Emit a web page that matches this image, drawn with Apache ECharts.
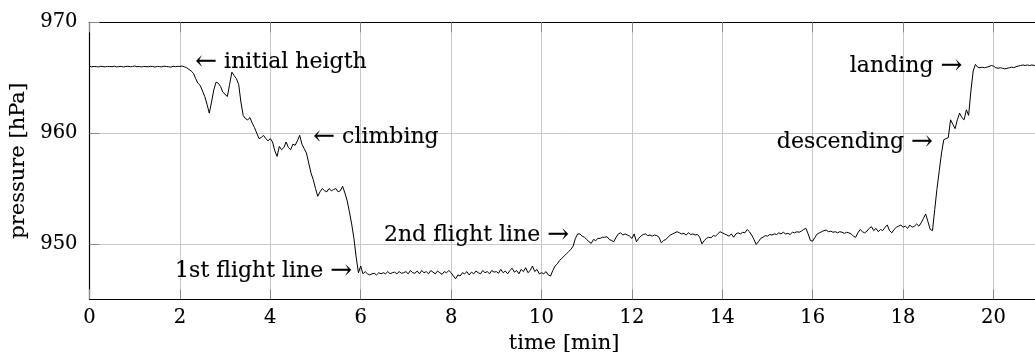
<!DOCTYPE html>
<html>
<head>
<meta charset="utf-8">
<title>Barometric pressure during flight</title>
<script src="https://cdn.jsdelivr.net/npm/echarts@6/dist/echarts.min.js"></script>
<style>
  html, body { margin: 0; padding: 0; background: #fff; }
  #chart { width: 1035px; height: 352px; }
</style>
</head>
<body>
<div id="chart"></div>
<script>
// Sampling interval of the logger, in minutes
const sampleStep = 0.05;

// Pressure readings [hPa], one row per minute (20 samples each), last value at 21.00 min
const pressure = [
  // 0 min
  966.02, 965.98, 966.01, 966.00, 965.97, 966.03, 966.00, 965.98, 966.02, 966.01,
  965.99, 966.04, 965.98, 966.00, 966.02, 965.97, 966.01, 966.03, 965.99, 966.00,
  // 1 min
  966.06, 965.99, 966.01, 965.97, 966.02, 966.00, 965.98, 966.03, 966.01, 965.96,
  966.02, 966.00, 965.98, 966.04, 966.01, 965.99, 965.95, 966.03, 966.00, 966.02,
  // 2 min
  966.02, 966.05, 965.98, 965.90, 965.75, 965.60, 965.40, 964.90, 964.50, 964.30,
  963.80, 963.30, 962.60, 961.80, 962.80, 963.90, 964.60, 964.50, 964.20, 963.70,
  // 3 min
  963.50, 963.30, 964.40, 965.50, 965.20, 964.90, 964.40, 962.80, 961.60, 961.30,
  961.20, 961.40, 960.90, 960.50, 960.00, 959.50, 959.60, 959.80, 959.50, 959.30,
  // 4 min
  959.50, 959.20, 958.40, 957.90, 958.80, 958.50, 958.70, 959.20, 958.70, 958.50,
  959.00, 958.90, 959.30, 959.80, 959.00, 958.60, 958.20, 957.30, 956.40, 955.80,
  // 5 min
  955.00, 954.30, 954.70, 955.00, 954.80, 954.70, 955.00, 954.80, 954.90, 955.00,
  954.70, 954.80, 955.20, 954.60, 953.90, 952.90, 951.80, 950.50, 948.80, 947.40,
  // 6 min
  948.00, 947.30, 947.50, 947.30, 947.20, 947.30, 947.35, 947.20, 947.40, 947.30,
  947.40, 947.30, 947.50, 947.30, 947.40, 947.45, 947.30, 947.50, 947.35, 947.40,
  // 7 min
  947.50, 947.30, 947.60, 947.40, 947.35, 947.55, 947.30, 947.60, 947.40, 947.50,
  947.30, 947.60, 947.45, 947.30, 947.55, 947.40, 947.25, 947.50, 947.40, 947.60,
  // 8 min
  947.40, 947.10, 946.85, 947.20, 947.10, 947.40, 947.30, 947.50, 947.20, 947.45,
  947.30, 947.55, 947.40, 947.30, 947.60, 947.40, 947.50, 947.30, 947.60, 947.45,
  // 9 min
  947.50, 947.35, 947.70, 947.40, 947.55, 947.30, 947.60, 947.80, 947.45, 947.60,
  947.30, 947.70, 947.50, 947.85, 947.40, 947.60, 948.00, 947.50, 947.70, 947.30,
  // 10 min
  947.40, 947.30, 947.50, 947.20, 947.10, 947.60, 948.00, 948.20, 948.50, 948.70,
  948.90, 949.10, 949.30, 949.50, 949.80, 950.50, 950.90, 950.90, 950.70, 950.60,
  // 11 min
  950.40, 950.20, 950.05, 950.40, 950.30, 950.50, 950.50, 950.60, 950.60, 950.65,
  950.40, 950.30, 950.20, 950.60, 950.90, 951.00, 950.80, 950.90, 950.80, 950.70,
  // 12 min
  950.50, 950.90, 950.20, 950.50, 950.70, 950.85, 950.90, 950.75, 950.80, 950.70,
  950.80, 950.75, 950.60, 950.10, 950.30, 950.40, 950.60, 950.80, 950.90, 951.00,
  // 13 min
  951.10, 951.00, 950.90, 950.95, 950.80, 951.00, 950.85, 950.90, 950.80, 950.85,
  950.60, 950.00, 950.30, 950.50, 950.60, 950.55, 950.75, 950.70, 950.90, 951.10,
  // 14 min
  951.00, 950.90, 950.80, 950.70, 950.90, 950.60, 950.90, 951.00, 950.90, 951.05,
  951.00, 951.30, 951.10, 950.80, 950.40, 949.95, 950.20, 950.50, 950.60, 950.75,
  // 15 min
  950.70, 950.85, 950.80, 950.90, 950.85, 951.00, 950.90, 951.05, 950.90, 950.95,
  950.85, 951.05, 951.00, 951.10, 951.05, 951.15, 951.30, 951.40, 950.90, 950.30,
  // 16 min
  950.25, 950.60, 950.90, 951.00, 951.10, 951.20, 951.25, 951.10, 951.15, 951.05,
  951.10, 951.00, 951.10, 951.05, 950.95, 951.05, 951.00, 950.90, 950.70, 950.60,
  // 17 min
  951.00, 951.30, 951.10, 951.00, 951.15, 951.40, 951.55, 951.20, 951.40, 951.10,
  951.30, 951.20, 951.50, 951.70, 951.20, 951.00, 951.30, 951.50, 951.60, 951.70,
  // 18 min
  951.50, 951.60, 951.40, 951.70, 951.50, 951.60, 951.80, 951.60, 951.90, 952.30,
  952.70, 952.00, 951.30, 951.20, 953.10, 955.00, 956.60, 958.20, 959.40, 959.50,
  // 19 min
  959.60, 961.20, 960.80, 960.40, 961.20, 961.80, 961.40, 961.20, 962.10, 961.60,
  963.80, 965.60, 966.20, 965.95, 965.90, 965.95, 965.90, 965.95, 966.00, 966.10,
  // 20 min
  966.05, 965.90, 965.85, 965.90, 965.85, 965.80, 965.85, 965.90, 965.95, 965.90,
  966.00, 966.05, 966.10, 966.15, 966.10, 966.15, 966.10, 966.15, 966.10, 966.15,
  // 21 min
  966.10
];

// Flight phase annotations: label text, anchor time [min], anchor pressure [hPa], side of the arrow
const noteTexts = ['initial heigth', 'climbing', '1st flight line', '2nd flight line', 'descending', 'landing'];
const noteTimes = [2.33, 4.94, 5.82, 10.62, 18.67, 19.32];
const notePressures = [966.4, 959.6, 947.55, 950.8, 959.2, 966.0];
const noteSides = ['left', 'left', 'right', 'right', 'right', 'right'];

const xTicks = [0, 2, 4, 6, 8, 10, 12, 14, 16, 18, 20];
const yTicks = [950, 960, 970];

const serif = '"DejaVu Serif", serif';
// a very faint outline in the text colour gives the glyphs a touch more weight
const ink = { color: '#000', textBorderColor: '#000', textBorderWidth: 0.12 };

const series = pressure.map((p, i) => [+(i * sampleStep).toFixed(2), p]);

const notes = noteTexts.map((t, i) => ({
  value: [noteTimes[i], notePressures[i]],
  label: Object.assign({
    show: true,
    position: noteSides[i] === 'left' ? 'right' : 'left',
    distance: 0,
    formatter: noteSides[i] === 'left' ? '{a|\u2190} ' + t : t + ' {a|\u2192}',
    opacity: 1,
    fontFamily: serif,
    fontSize: 22,
    rich: { a: Object.assign({ fontFamily: serif, fontSize: 26 }, ink) }
  }, ink)
}));

const chart = echarts.init(document.getElementById('chart'), null, { renderer: 'canvas' });

const gridLine = { show: true, lineStyle: { color: '#c9c9c9', width: 1 } };
const tickStyle = { show: true, inside: true, length: 10, lineStyle: { color: '#8a8a8a', width: 1 } };

chart.setOption({
  animation: false,
  backgroundColor: '#fff',
  grid: {
    left: 89.5, top: 22.3, bottom: 52.7, right: -3.7,
    outerBoundsMode: 'none', containLabel: false
  },
  xAxis: [
    {
      type: 'value', min: 0, max: 21,
      position: 'bottom',
      name: 'time [min]', nameLocation: 'middle', nameGap: 31,
      nameTextStyle: Object.assign({ fontFamily: serif, fontSize: 21 }, ink),
      axisLine: { show: true, onZero: false, lineStyle: { color: '#000', width: 1.2 } },
      axisTick: Object.assign({ customValues: xTicks }, tickStyle),
      splitLine: gridLine,
      axisLabel: Object.assign({
        customValues: xTicks,
        fontFamily: serif, fontSize: 19.5, margin: 9
      }, ink)
    },
    {
      type: 'value', min: 0, max: 21,
      position: 'top',
      axisLine: { show: true, onZero: false, lineStyle: { color: '#000', width: 1.2 } },
      axisTick: Object.assign({ customValues: xTicks }, tickStyle),
      splitLine: { show: false },
      axisLabel: { show: false }
    }
  ],
  yAxis: [
    {
      type: 'value', min: 945, max: 970,
      position: 'left',
      name: 'pressure [hPa]', nameLocation: 'middle', nameGap: 47,
      nameTextStyle: Object.assign({ fontFamily: serif, fontSize: 21 }, ink),
      axisLine: { show: true, onZero: false, lineStyle: { color: '#000', width: 1.2 } },
      axisTick: Object.assign({ customValues: yTicks }, tickStyle),
      splitLine: gridLine,
      axisLabel: Object.assign({
        customValues: yTicks,
        fontFamily: serif, fontSize: 19.5, margin: 12
      }, ink)
    },
    {
      type: 'value', min: 945, max: 970,
      position: 'right',
      axisLine: { show: true, onZero: false, lineStyle: { color: '#000', width: 1.2 } },
      axisTick: { show: false },
      splitLine: { show: false },
      axisLabel: { show: false }
    }
  ],
  series: [
    {
      name: 'pressure',
      type: 'line',
      data: series,
      showSymbol: false,
      symbol: 'none',
      lineStyle: { color: '#000', width: 1 },
      z: 3
    },
    {
      name: 'phases',
      type: 'scatter',
      data: notes,
      symbolSize: 1,
      itemStyle: { color: 'transparent', opacity: 1 },
      silent: true,
      z: 4
    }
  ]
});
</script>
</body>
</html>
